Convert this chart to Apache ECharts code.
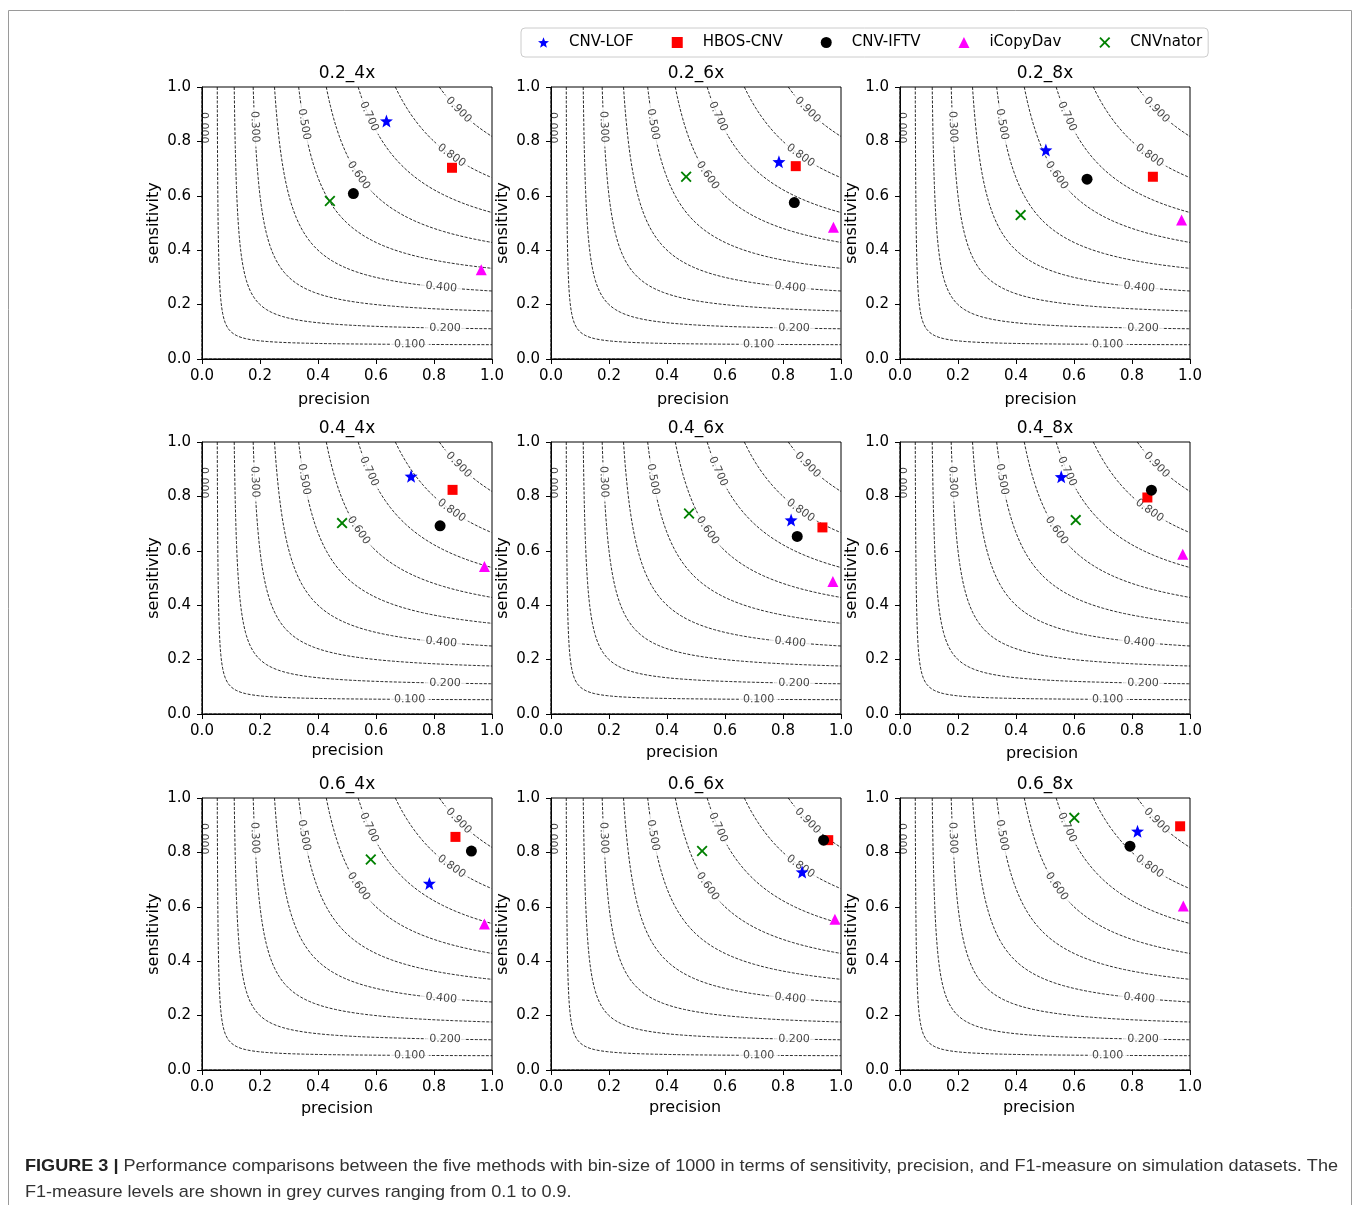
<!DOCTYPE html>
<html><head><meta charset="utf-8">
<script src="https://cdn.jsdelivr.net/npm/echarts@6.0.0/dist/echarts.min.js"></script>
<style>html,body{margin:0;padding:0;background:#fff}#c{width:1360px;height:1205px}</style>
</head><body><div id="c"></div>
<script>
// ---------------- data ----------------
const panelTitles = ['0.2_4x','0.2_6x','0.2_8x','0.4_4x','0.4_6x','0.4_8x','0.6_4x','0.6_6x','0.6_8x'];
const methods = ['CNV-LOF','HBOS-CNV','CNV-IFTV','iCopyDav','CNVnator'];
// [precision, sensitivity] per panel
const cnvLOF   = [[0.636,0.875],[0.786,0.725],[0.503,0.768],[0.721,0.874],[0.828,0.713],[0.556,0.872],[0.784,0.686],[0.866,0.728],[0.819,0.878]];
const hbosCNV  = [[0.862,0.703],[0.844,0.709],[0.872,0.670],[0.864,0.824],[0.936,0.686],[0.853,0.796],[0.874,0.857],[0.956,0.845],[0.966,0.896]];
const cnvIFTV  = [[0.522,0.608],[0.839,0.575],[0.645,0.661],[0.821,0.692],[0.849,0.653],[0.867,0.823],[0.929,0.805],[0.940,0.845],[0.793,0.823]];
const iCopyDav = [[0.963,0.328],[0.974,0.484],[0.971,0.511],[0.974,0.542],[0.972,0.487],[0.975,0.587],[0.974,0.537],[0.979,0.554],[0.977,0.603]];
const cnvNator = [[0.441,0.581],[0.466,0.670],[0.416,0.529],[0.483,0.702],[0.476,0.737],[0.606,0.713],[0.582,0.774],[0.521,0.805],[0.601,0.927]];
// F1 iso-levels and the precision at which each level's label sits
const f1Levels    = [0.1, 0.2, 0.3, 0.4, 0.5, 0.6, 0.7, 0.8, 0.9];
const f1LabelText = ['0.100','0.200','0.300','0.400','0.500','0.600','0.700','0.800','0.900'];
const f1LabelX    = [0.716, 0.838, 0.182, 0.825, 0.352, 0.54, 0.576, 0.86, 0.885];
const zeroLabel   = {text:'0.000', x:0.008, y:0.85};
const axisTicks   = [0, 0.2, 0.4, 0.6, 0.8, 1.0];
const xName = 'precision', yName = 'sensitivity';
const captionBold = 'FIGURE 3 |';
const captionLine1 = ' Performance comparisons between the five methods with bin-size of 1000 in terms of sensitivity, precision, and F1-measure on simulation datasets. The';
const captionLine2 = 'F1-measure levels are shown in grey curves ranging from 0.1 to 0.9.';

// ---------------- layout / style ----------------
const FONT = 'DejaVu Sans';
const gridLefts = [202, 551, 900], gridTops = [87, 442, 798];
const GW = 290, GH = 272;
// per-panel axis-name nudges [dx, dy-from-axis] to mimic the reference composite
const xNameOff = [[-13,39],[-3,39],[-4.5,39],[0.5,35],[-14,37],[-3,38],[-10,37],[-11,36],[-6,36]];
const methodData = [cnvLOF, hbosCNV, cnvIFTV, iCopyDav, cnvNator];
const colors = ['#0000ff','#ff0000','#000000','#ff00ff','#008000'];
function starPath(){
  const pts=[]; for(let k=0;k<10;k++){const r=k%2===0?50:21;const a=-Math.PI/2+k*Math.PI/5;pts.push((50+r*Math.cos(a)).toFixed(2)+','+(50+r*Math.sin(a)).toFixed(2));}
  return 'path://M'+pts.join(' L')+' Z';
}
const xPath = 'path://M0,12 L12,0 L50,38 L88,0 L100,12 L62,50 L100,88 L88,100 L50,62 L12,100 L0,88 L38,50 Z';
const symbols = [starPath(), 'rect', 'circle', 'triangle', xPath];
const symSizes = [13, 10, 11, 11, 11];

function curve(F){
  const x0 = F/(2-F), pts=[];
  const N=300;
  for(let i=0;i<=N;i++){const s=i/N; const x=x0+(1-x0)*s*s; const y=F*x/(2*x-F); pts.push([x, Math.min(1,y)]);}
  return pts;
}

const grids=[], xAxes=[], yAxes=[], titles=[], series=[];
for(let i=0;i<9;i++){
  const r=Math.floor(i/3), c=i%3;
  grids.push({left:gridLefts[c], top:gridTops[r], width:GW, height:GH, show:true, borderColor:'#000', borderWidth:1, backgroundColor:'transparent'});
  const off=xNameOff[i];
  xAxes.push({gridIndex:i, type:'value', min:axisTicks[0], max:axisTicks[axisTicks.length-1], interval:0.2,
    axisLine:{show:true,onZero:false,lineStyle:{color:'#000',width:1}},
    axisTick:{show:true,length:5,lineStyle:{color:'#000'}},
    axisLabel:{margin:10,fontSize:15,color:'#000',fontFamily:FONT,formatter:v=>v.toFixed(1)},
    splitLine:{show:false},
    name:xName, nameLocation:'middle', nameGap:off[1]-6,
    nameTextStyle:{fontSize:16,color:'#000',fontFamily:FONT,padding: off[0]<0?[0,-2*off[0],0,0]:[0,0,0,2*off[0]]}});
  yAxes.push({gridIndex:i, type:'value', min:0, max:1, interval:0.2,
    axisLine:{show:true,onZero:false,lineStyle:{color:'#000',width:1}},
    axisTick:{show:true,length:5,lineStyle:{color:'#000'}},
    axisLabel:{margin:11,fontSize:15,color:'#000',fontFamily:FONT,formatter:v=>v.toFixed(1)},
    splitLine:{show:false},
    name:yName, nameLocation:'middle', nameGap:40,
    nameTextStyle:{fontSize:16,color:'#000',fontFamily:FONT}});
  titles.push({text:panelTitles[i], left:gridLefts[c]+GW/2, top:gridTops[r]-22, textAlign:'center', padding:0,
    textStyle:{fontSize:17,fontWeight:'normal',color:'#000',fontFamily:FONT}});
  const ls={color:'#111',width:0.9,type:[3,1.5]};
  // zero-level contour along the axes
  series.push({type:'line',xAxisIndex:i,yAxisIndex:i,data:[[0,1],[0,0],[1,0]],showSymbol:false,symbol:'none',lineStyle:ls,silent:true,z:2,animation:false});
  f1Levels.forEach(F=>{
    series.push({type:'line',xAxisIndex:i,yAxisIndex:i,data:curve(F),showSymbol:false,symbol:'none',smooth:false,lineStyle:ls,silent:true,z:2,animation:false});
  });
  // contour labels
  const labData = f1Levels.map((F,k)=>{
    const x=f1LabelX[k], y=F*x/(2*x-F);
    const slope=-F*F/Math.pow(2*x-F,2);
    const ang=Math.atan(slope*GH/GW)*180/Math.PI;
    return {value:[x,y], name:f1LabelText[k], label:{rotate:ang}};
  });
  labData.push({value:[zeroLabel.x,zeroLabel.y], name:zeroLabel.text, label:{rotate:-90, backgroundColor:'transparent', padding:0}});
  series.push({type:'scatter',xAxisIndex:i,yAxisIndex:i,data:labData,symbolSize:1,itemStyle:{color:'rgba(0,0,0,0)'},silent:true,z:3,animation:false,
    label:{show:true,position:'inside',formatter:p=>p.name,fontSize:11,fontFamily:FONT,color:'#111',backgroundColor:'#fff',padding:[0,4]}});
  // method markers
  methods.forEach((m,k)=>{
    series.push({type:'scatter',name:m,xAxisIndex:i,yAxisIndex:i,data:[methodData[k][i]],symbol:symbols[k],symbolSize:symSizes[k],
      itemStyle:{color:colors[k],opacity:1},z:5+k,animation:false});
  });
}

// caption horizontal scale to match the reference line width
const cv=document.createElement('canvas').getContext('2d');
cv.font='bold 17px "Liberation Sans"'; let w=cv.measureText(captionBold).width;
cv.font='17px "Liberation Sans"'; w+=cv.measureText(captionLine1).width;
const capScale = 1313/w;

const option={
  backgroundColor:'#fff',
  animation:false,
  title:titles,
  grid:grids, xAxis:xAxes, yAxis:yAxes,
  legend:{data:methods,left:521,top:28,orient:'horizontal',itemWidth:11,itemHeight:11,itemGap:38,
    padding:[7,6,7,17],borderColor:'#ccc',borderWidth:1,borderRadius:4,
    textStyle:{fontSize:15,fontFamily:FONT,color:'#000',padding:[0,0,0,15]}},
  series:series,
  graphic:[
    {type:'rect',shape:{x:8.5,y:10.5,width:1343,height:1300},style:{fill:'none',stroke:'#9a9a9a',lineWidth:1},silent:true,z:0},
    {type:'text',x:25,y:1153,scaleX:capScale,silent:true,
      style:{text:'{b|'+captionBold+'}'+captionLine1+'\n'+captionLine2,font:'17px "Liberation Sans"',fill:'#333',lineHeight:26,
        rich:{b:{font:'bold 17px "Liberation Sans"',fill:'#222',lineHeight:26}}}}
  ]
};
const chart=echarts.init(document.getElementById('c'));
chart.setOption(option);
</script>
</body></html>
